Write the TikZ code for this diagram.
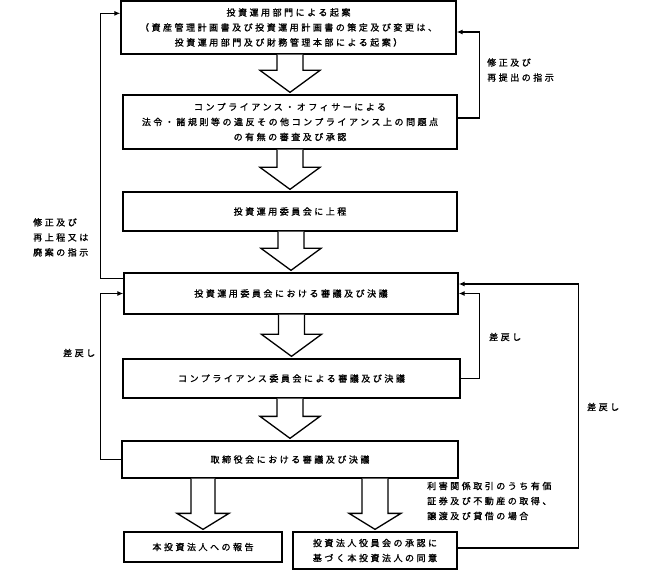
\documentclass[tikz,border=0pt]{standalone}
\usepackage{fontspec}
\newfontfamily\jp[LetterSpace=28,FakeBold=1.2]{Noto Sans CJK JP}
\usetikzlibrary{calc,arrows.meta}
\tikzset{
  box/.style={draw, line width=1.3pt, align=center, inner sep=0pt, font=\jp\fontsize{9}{15}\selectfont},
  lbl/.style={align=left, inner sep=0pt, font=\jp\fontsize{9}{15}\selectfont},
  conn/.style={line width=1.2pt, -{Latex[length=6pt,width=5pt]}},
  blk/.style={draw, line width=1.3pt, fill=white, line join=miter},
}
% block arrow: from, to, shaft half width, head half width, head length
\newcommand{\blkarrow}[5]{%
  \draw[blk] let \p1=(#1.south), \p2=(#2.north) in
    (\x2-#3pt,\y1) -- (\x2-#3pt,\y2+#5pt+2pt) -- (\x2-#4pt,\y2+#5pt+2pt) -- (\x2,\y2+2pt)
    -- (\x2+#4pt,\y2+#5pt+2pt) -- (\x2+#3pt,\y2+#5pt+2pt) -- (\x2+#3pt,\y1);
}
\begin{document}
\begin{tikzpicture}[x=1pt,y=-1pt]
\useasboundingbox (0,0) rectangle (648,577);
% boxes
\node[box, minimum width=335pt, minimum height=53pt] (b1) at (288.5,27.5)
  {投資運用部門による起案\\（資産管理計画書及び投資運用計画書の策定及び変更は、\\投資運用部門及び財務管理本部による起案）};
\node[box, minimum width=334pt, minimum height=54pt] (b2) at (290,122)
  {コンプライアンス・オフィサーによる\\法令・諸規則等の違反その他コンプライアンス上の問題点\\の有無の審査及び承認};
\node[box, minimum width=334pt, minimum height=39pt] (b3) at (290,211.5)
  {投資運用委員会に上程};
\node[box, minimum width=334pt, minimum height=41pt] (b4) at (291,293.5)
  {投資運用委員会における審議及び決議};
\node[box, minimum width=337pt, minimum height=39pt] (b5) at (291.5,378.5)
  {コンプライアンス委員会による審議及び決議};
\node[box, minimum width=336pt, minimum height=37pt] (b6) at (290,459.5)
  {取締役会における審議及び決議};
\node[box, minimum width=158pt, minimum height=30pt] (b7) at (203,547)
  {本投資法人への報告};
\node[box, minimum width=164pt, minimum height=37pt] (b8) at (375,550.5)
  {投資法人役員会の承認に\\基づく本投資法人の同意};
% block arrows
\blkarrow{b1}{b2}{13}{30}{22}
\blkarrow{b2}{b3}{13}{30}{22}
\blkarrow{b3}{b4}{13}{30}{22}
\blkarrow{b4}{b5}{13}{30}{22}
\blkarrow{b5}{b6}{13}{30}{22}
\blkarrow{b6}{b7}{12}{26}{16}
\blkarrow{b6}{b8}{13}{26}{16}
% connectors
\draw[conn] ([yshift=-6pt]b4.north west) -- ++(-23,0) |- ([yshift=-13pt]b1.north west);
\draw[conn] (b6.west) -- ++(-21,0) |- (b4.west);
\draw[conn] ([yshift=4pt]b2.east) -- ++(22,0) |- ([yshift=-4.5pt]b1.east);
\draw[conn] (b5.east) -- ++(19,0) |- (b4.east);
\draw[conn] ([yshift=2.5pt]b8.east) -- ++(121,0) |- ([yshift=9.5pt]b4.east);
% labels
\node[lbl, anchor=north west] (l1) at (33,218) {修正及び\\再上程又は\\廃案の指示};
\node[lbl, anchor=west] (l2) at (487,70) {修正及び\\再提出の指示};
\node[lbl, anchor=west] (l3) at (63,353) {差戻し};
\node[lbl, anchor=west] (l4) at (489,337) {差戻し};
\node[lbl, anchor=west] (l5) at (587,407) {差戻し};
\node[lbl, anchor=west] (l6) at (427,501) {利害関係取引のうち有価\\証券及び不動産の取得、\\譲渡及び貸借の場合};
\end{tikzpicture}
\end{document}
